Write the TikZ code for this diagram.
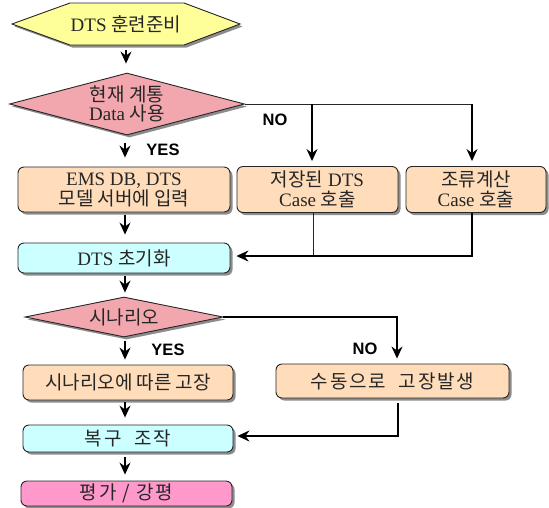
\documentclass[tikz,border=0pt]{standalone}
\usepackage{fontspec}
\setmainfont{Liberation Serif}
\newfontfamily\kr{Noto Sans CJK KR}
\newfontfamily\krw{Noto Sans CJK KR}[LetterSpace=10]
\newfontfamily\yn{Liberation Sans}
\usetikzlibrary{arrows.meta,shapes.geometric,shadows}
\newcommand\K[1]{{\kr #1}}
\definecolor{hexyellow}{RGB}{255,255,153}
\definecolor{diapink}{RGB}{242,166,174}
\definecolor{peach}{RGB}{255,221,187}
\definecolor{lcyan}{RGB}{204,255,255}
\definecolor{lpink}{RGB}{255,153,204}
\begin{document}
\begin{tikzpicture}[x=1pt,y=-1pt,
  shad/.style={drop shadow={shadow xshift=2.5pt,shadow yshift=-2.5pt,fill=black!45,opacity=1}},
  txt/.style={font=\fontsize{19}{20}\selectfont, align=center, text=black!85},
  box/.style={draw=black!85, line width=0.9pt, rounded corners=6pt, inner sep=0pt, txt, shad},
  dia/.style={diamond, draw=black!85, line width=0.9pt, inner sep=0pt, txt, fill=diapink, shad},
  arr/.style={-{Stealth[length=12pt,width=11pt,inset=4pt]}, line width=1.3pt},
  con/.style={line width=0.9pt, draw=black!85},
  lab/.style={font=\yn\bfseries\fontsize{16.5}{16.5}\selectfont}
]
\useasboundingbox (0,0) rectangle (549,507);
% hexagon
\draw[con, fill=hexyellow, shad] (12,24) -- (70,3) -- (184,3) -- (240,24) -- (184,45) -- (70,45) -- cycle;
\node[txt, minimum width=228pt, minimum height=42pt, inner sep=0pt] (hex) at (126,24) {DTS \K{훈련준비}};
% decision 1
\node[dia, aspect=3.79, minimum width=235pt, minimum height=62pt, text height=0pt, text depth=0pt, text width=1pt] (d1) at (127,104) {};
\node[txt] (d1t) at (127,104) {\K{현재 계통}\\[-1pt]Data \K{사용}};
% boxes row
\node[box, fill=peach, minimum width=212pt, minimum height=45pt] (ems) at (124,189.5) {EMS DB, DTS\\\K{모델 서버에 입력}};
\node[box, fill=peach, minimum width=161pt, minimum height=46pt] (saved) at (317.5,189.5) {\K{저장된} DTS\\Case \K{호출}};
\node[box, fill=peach, minimum width=140pt, minimum height=46pt] (flow) at (476,189.5) {\K{조류계산}\\Case \K{호출}};
\node[box, fill=lcyan, minimum width=212pt, minimum height=30pt] (init) at (124,258) {DTS \K{초기화}};
% decision 2
\node[dia, aspect=4.95, minimum width=198pt, minimum height=40pt, text height=0pt, text depth=0pt, text width=1pt] (d2) at (124,317) {};
\node[txt] (d2t) at (124,317) {\K{시나리오}};
\node[box, fill=peach, minimum width=210pt, minimum height=35pt] (fault) at (128,382.5) {\K{시나리오에 따른 고장}};
\node[box, fill=peach, minimum width=233pt, minimum height=34pt] (manual) at (392.5,381) {{\krw 수동으로\ \ 고장발생}};
\node[box, fill=lcyan, minimum width=210pt, minimum height=27pt] (recov) at (128,438.5) {{\krw 복구\ \ 조작}};
\node[box, fill=lpink, minimum width=211pt, minimum height=25pt] (eval) at (126.5,493.5) {{\krw 평가 / 강평}};
% labels
\node[lab] (no1) at (275,120) {NO};
\node[lab] (yes1) at (163,150) {YES};
\node[lab] (yes2) at (168,350) {YES};
\node[lab] (no2) at (365,349) {NO};
% coordinates
\coordinate (j1) at (312,104);
\coordinate (j2) at (472,104);
\coordinate (s1) at (313,213);
\coordinate (s2) at (472,213);
\coordinate (m1) at (398,403);
% main column arrows
\draw[arr, shorten <=5pt, shorten >=9pt] (hex.south -| 126,0) -- (d1.north -| 126,0);
\draw[arr, shorten <=8pt, shorten >=9pt] (d1.south -| 125,0) -- (ems.north -| 125,0);
\draw[arr, shorten <=3pt, shorten >=8pt] (ems.south -| 125,0) -- (init.north -| 125,0);
\draw[arr, shorten <=3pt, shorten >=4pt] (init.south -| 125,0) -- (d2.north -| 125,0);
\draw[arr, shorten <=4pt, shorten >=5pt] (d2.south -| 125,0) -- (fault.north -| 125,0);
\draw[arr, shorten <=2pt, shorten >=7pt] (fault.south -| 125,0) -- (recov.north -| 125,0);
\draw[arr, shorten <=5pt, shorten >=6pt] (recov.south -| 125,0) -- (eval.north -| 125,0);
% NO branch 1
\draw[con] (d1.east) -- (j2);
\draw[arr, shorten >=5pt] (j1) -- (j1 |- saved.north);
\draw[arr, shorten >=5pt] (j2) -- (j2 |- flow.north);
\draw[con] (s1) -- (s1 |- 0,256);
\draw[arr, shorten >=6pt] (s2) -- (s2 |- 0,256) -- (init.east |- 0,256);
% NO branch 2
\draw[arr, shorten >=5pt] (d2.east) -| (manual.north -| 397,0);
\draw[arr, shorten >=4pt] (m1) -- (m1 |- 0,436) -- (recov.east |- 0,436);
\end{tikzpicture}
\end{document}
